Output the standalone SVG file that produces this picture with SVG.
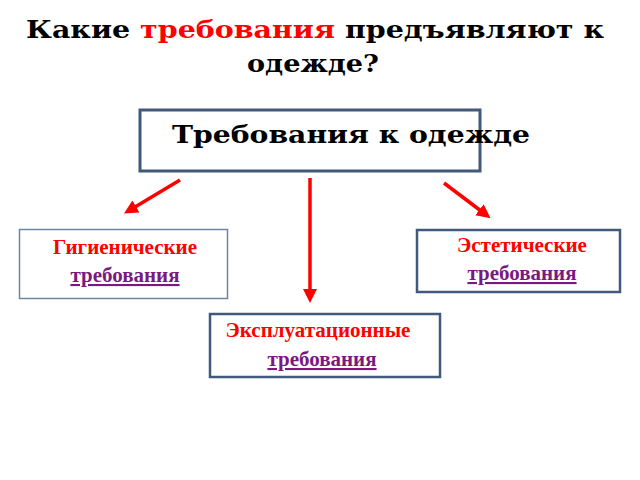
<svg xmlns="http://www.w3.org/2000/svg" width="640" height="480" viewBox="0 0 640 480">
<style>
.t{font-family:"DejaVu Serif","Liberation Serif",serif;font-weight:bold;fill:#000}
.r{font-family:"Liberation Serif",serif;font-weight:bold;font-size:21px;fill:#ff0000;text-anchor:middle}
.p{font-family:"Liberation Serif",serif;font-weight:bold;font-size:21px;fill:#7a1a80;text-anchor:middle;text-decoration:underline}
.a{stroke:#ff0000;stroke-width:3.5;fill:none;marker-end:url(#ah)}
</style>
<defs><marker id="ah" markerWidth="4" markerHeight="4" refX="2" refY="2" orient="auto"><path d="M0,0L4,2L0,4z" fill="#ff0000"/></marker></defs>
<rect width="640" height="480" fill="#fff"/>
<g id="title">
<text class="t" font-size="25" x="26" y="38" textLength="578" lengthAdjust="spacingAndGlyphs">Какие <tspan fill="#ff0000">требования</tspan> предъявляют к</text>
<text class="t" font-size="25" x="313" y="72" text-anchor="middle" textLength="132" lengthAdjust="spacingAndGlyphs">одежде?</text>
</g>
<g id="main">
<rect x="140" y="110" width="340" height="61" fill="#fff" stroke="#41597a" stroke-width="3"/>
<text class="t" font-size="24" x="172" y="143" textLength="358" lengthAdjust="spacingAndGlyphs">Требования к одежде</text>
</g>
<g id="connectors">
<line class="a" x1="180" y1="180" x2="130" y2="210"/>
<line class="a" x1="310" y1="178" x2="310" y2="296"/>
<line class="a" x1="444" y1="183" x2="485" y2="214"/>
</g>
<g id="hyg">
<rect x="19.5" y="229.5" width="208" height="69" fill="#fff" stroke="#6e86a6" stroke-width="1.5"/>
<text class="r" x="125" y="254">Гигиенические</text>
<text class="p" x="125" y="282">требования</text>
</g>
<g id="est">
<rect x="417" y="230" width="203" height="62" fill="#fff" stroke="#41597a" stroke-width="2.5"/>
<text class="r" x="522" y="252">Эстетические</text>
<text class="p" x="522" y="280">требования</text>
</g>
<g id="exp">
<rect x="210" y="314" width="230" height="63" fill="#fff" stroke="#41597a" stroke-width="2.5"/>
<text class="r" x="318" y="337">Эксплуатационные</text>
<text class="p" x="322" y="366">требования</text>
</g>
</svg>
